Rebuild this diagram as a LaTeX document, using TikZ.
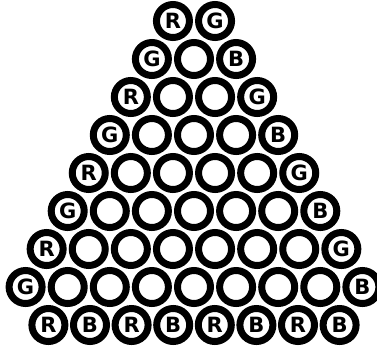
\documentclass[tikz,border=0pt]{standalone}
\usepackage{fontspec}
\setsansfont{DejaVu Sans}
\begin{document}
\begin{tikzpicture}[x=1pt, y=-1pt]
    % --- CONFIGURACIÓN ---
    \tikzset{bola/.style={circle, draw, line width=7pt, minimum size=33pt, inner sep=0pt,
        font=\sffamily\bfseries\fontsize{21}{21}\selectfont}}
    \useasboundingbox (0,0) rectangle (377,346);

    % --- FILAS 1 A 8 (f+1 bolas, letras en los extremos) ---
    \foreach \f/\izq/\der in {1/R/G, 2/G/B, 3/R/G, 4/G/B, 5/R/G, 6/G/B, 7/R/G, 8/G/B} {
        \foreach \i in {0,...,\f} {
            \node[bola] (c-\f-\i) at ({194 + (\i - \f/2)*42.1}, {21 + (\f - 1)*38})
                {\ifnum\i=0 \izq\else\ifnum\i=\f \der\fi\fi};
        }
    }

    % --- FILA 9 (R y B alternadas) ---
    \foreach \i/\t in {0/R, 1/B, 2/R, 3/B, 4/R, 5/B, 6/R, 7/B} {
        \node[bola] (c-9-\i) at ({194 + (\i - 3.5)*41.6}, 325) {\t};
    }

\end{tikzpicture}
\end{document}
